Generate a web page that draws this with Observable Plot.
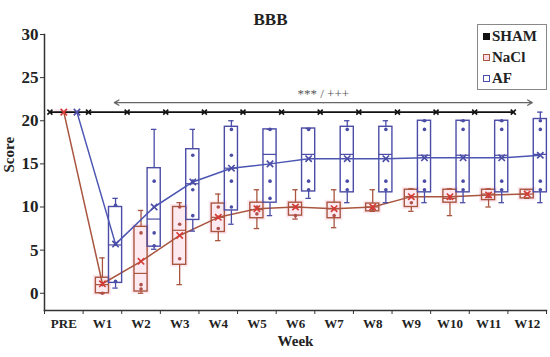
<!DOCTYPE html>
<html><head><meta charset="utf-8">
<script src="https://cdn.jsdelivr.net/npm/d3@7"></script>
<script src="https://cdn.jsdelivr.net/npm/@observablehq/plot@0.6"></script>
<style>
body{margin:0;background:#fff;}
#wrap{position:relative;width:550px;height:357px;font-family:"Liberation Serif","Times New Roman",serif;font-weight:bold;color:#222;}
#legend{position:absolute;left:477px;top:24px;width:68px;height:64px;border:1px solid #888;background:#fff;}
.item{position:absolute;left:5px;font-size:15px;line-height:15px;height:15px;display:flex;align-items:center;}
.sw{width:7px;height:7px;margin-right:2px;box-sizing:border-box;}
</style></head><body><div id="wrap"><div id="legend"></div></div>
<script>
// ---- data ----
const weeks = ["PRE","W1","W2","W3","W4","W5","W6","W7","W8","W9","W10","W11","W12"];
const yTicks = [0,5,10,15,20,25,30];
const shamScore = [21,21,21,21,21,21,21,21,21,21,21,21,21];

const naclMin    = [21, 0,   0,   1,   6.1, 7.5, 8.6, 7.6, 9.5, 9.5, 9,    10,   11];
const naclQ1     = [21, 0,   0.2, 3.3, 7.1, 8.7, 9,   8.7, 9.5, 10,  10.5, 10.8, 11];
const naclMedian = [21, 1,   2.3, 7.3, 8.8, 9.7, 10,  9.8, 10,  11.2,11,   11.5, 11.5];
const naclQ3     = [21, 1.8, 7.7, 10,  10.4,10.5,10.5,10.5,10.4,12,  12,   12,   12];
const naclMax    = [21, 4.1, 9.6, 10.5,11.5,12,  12,  12,  12,  12.1,12.1, 12.1, 12];
const naclMean   = [21, 1.1, 3.7, 6.7, 8.8, 9.8, 10,  9.8, 10,  11.2,11.2, 11.4, 11.5];
const naclPoints = [[21],[0,1],[7,1,0.5],[10,8,4],[10,7.5,8.8],[10,9.2],[10,9],[9.8,9],[10,9.8],[11.2,10.5],[11.2,11],[11.5,11.2],[11.5]];

const afMin    = [21, 0.6, 5.1, 7.2, 8,   9,   11,  10.5,10.5,10.5,10.5,10.5,10.5];
const afQ1     = [21, 1.2, 5.4, 8.5, 9.6, 10.5,11.8,11.7,11.7,11.7,11.7,11.7,11.7];
const afMedian = [21, 5.6, 8.6, 12.7,14.5,16.1,16.1,16.1,16.1,16,  16,  16,  16.1];
const afQ3     = [21, 10,  14.5,16.7,19.3,19,  19.1,19.3,19.3,20,  20,  20,  20.2];
const afMax    = [21, 11,  19,  19,  20,  19,  19.1,20,  20,  20,  20,  20,  21];
const afMean   = [21, 5.7, 10,  12.9,14.5,15,  15.6,15.6,15.6,15.7,15.7,15.7,16];
const afPoints = [[21],[10.2,5.7,1.4],[13,7,5.5],[16,12,9,13],[19,16,13,10],[19,13,11],[19,13,12],[19,13,12],[19,13,12],[20,19,13,12],[20,19,13,12],[20,19,13,12],[20,19,13,12]];

const sigSpan = [1.31, 12.13];   // week-index span of the significance arrow
const sigLevel = 22.1;           // score level of the arrow
const sigLabel = "*** / +++";

// ---- layout helpers ----
const offs = {SHAM: -0.36, NaCl: 0, AF: 0.34};
const hw = 0.17, cap = 0.07;
const styles = {
  NaCl: {stroke: "#a9553f", mean: "#d63a34", line: "#a9553f", dot: "#b0504a", halo: "#fdeaf1"},
  AF:   {stroke: "#4a4ca6", mean: "#4a4ca6", line: "#4c55b2", dot: "#4a4ca6", halo: null}
};

function buildRows(g, mn, q1, md, q3, mx, mean) {
  return weeks.map((w, i) => ({g, i, x: i + offs[g], min: mn[i], q1: q1[i], med: md[i], q3: q3[i], max: mx[i], mean: mean[i]}));
}
const groups = {
  NaCl: {rows: buildRows("NaCl", naclMin, naclQ1, naclMedian, naclQ3, naclMax, naclMean), pts: naclPoints},
  AF:   {rows: buildRows("AF", afMin, afQ1, afMedian, afQ3, afMax, afMean), pts: afPoints}
};
const shamRows = weeks.map((w, i) => ({x: i + offs.SHAM, y: shamScore[i]}));

const marks = [];
for (const g of ["NaCl", "AF"]) {
  const s = styles[g], rows = groups[g].rows;
  if (s.halo) {
    marks.push(Plot.rect(rows, {x1: d => d.x - hw, x2: d => d.x + hw, y1: "q1", y2: "q3", fill: s.halo, insetLeft: -2.5, insetRight: -2.5, insetTop: -2.5, insetBottom: -2.5}));
  }
}
marks.push(Plot.line(shamRows, {x: "x", y: "y", stroke: "#111", strokeWidth: 1.6}));
marks.push(Plot.dot(shamRows, {x: "x", y: "y", symbol: "times", r: 2.4, stroke: "#111", strokeWidth: 1.6}));
for (const g of ["NaCl", "AF"]) {
  const s = styles[g], rows = groups[g].rows;
  const bx = rows.filter(d => d.i > 0);
  const pts = groups[g].pts.flatMap((arr, i) => arr.map(v => ({x: i + offs[g], y: v})));
  marks.push(
    Plot.ruleX(bx, {x: "x", y1: "min", y2: "q1", stroke: s.stroke, strokeWidth: 1.3}),
    Plot.ruleX(bx, {x: "x", y1: "q3", y2: "max", stroke: s.stroke, strokeWidth: 1.3}),
    Plot.ruleY(bx, {y: "min", x1: d => d.x - cap, x2: d => d.x + cap, stroke: s.stroke, strokeWidth: 1.3}),
    Plot.ruleY(bx, {y: "max", x1: d => d.x - cap, x2: d => d.x + cap, stroke: s.stroke, strokeWidth: 1.3}),
    Plot.rect(bx, {x1: d => d.x - hw, x2: d => d.x + hw, y1: "q1", y2: "q3", fill: "none", stroke: s.stroke, strokeWidth: 1.4}),
    Plot.ruleY(bx, {y: "med", x1: d => d.x - hw, x2: d => d.x + hw, stroke: s.stroke, strokeWidth: 1.2}),
    Plot.dot(pts.filter(p => p.x > 0.5), {x: "x", y: "y", r: 1.8, fill: s.dot}),
    Plot.line(rows, {x: "x", y: "mean", stroke: s.line, strokeWidth: 1.5}),
    Plot.dot(rows, {x: "x", y: "mean", symbol: "times", r: 3, stroke: s.mean, strokeWidth: 1.6})
  );
}
const mid = (sigSpan[0] + sigSpan[1]) / 2;
marks.push(
  Plot.arrow([{a: mid, b: sigSpan[0]}, {a: mid, b: sigSpan[1]}], {x1: "a", x2: "b", y1: () => sigLevel, y2: () => sigLevel, stroke: "#666", strokeWidth: 1.3, headLength: 6}),
  Plot.text([sigLabel], {x: () => mid, y: () => sigLevel, text: d => d, dy: -9, fontSize: 13, fontWeight: "normal", fill: "#555"})
);

const chart = Plot.plot({
  width: 550, height: 357,
  marginLeft: 44, marginRight: 4, marginTop: 34, marginBottom: 47,
  x: {domain: [-0.5, 12.5], axis: null},
  y: {domain: [-2, 30], axis: null},
  style: {fontFamily: "'Liberation Serif', 'Times New Roman', serif", fontWeight: "bold", fontSize: "13px", color: "#222", background: "transparent"},
  marks: [
    ...marks,
    Plot.axisY({ticks: yTicks, tickSize: 4, tickPadding: 2, fontSize: 17, label: null, stroke: "#333"}),
    Plot.axisX({ticks: d3.range(13), tickFormat: i => weeks[i], tickSize: 0, tickPadding: 8, fontSize: 13, label: null}),
    Plot.axisX({ticks: d3.range(-0.5, 13, 1), tickFormat: () => "", tickSize: 4, label: null, stroke: "#333"}),
    Plot.frame({anchor: "left", stroke: "#333", strokeWidth: 1.5}),
    Plot.frame({anchor: "bottom", stroke: "#333", strokeWidth: 1.5}),
    Plot.text(["BBB"], {text: d => d, frameAnchor: "top", dx: -25, dy: -22, fontSize: 17, fill: "#222"}),
    Plot.text(["Score"], {text: d => d, frameAnchor: "left", dx: -35, rotate: -90, fontSize: 15, fill: "#222"}),
    Plot.text(["Week"], {text: d => d, frameAnchor: "bottom", dy: 35, fontSize: 15, fill: "#222"})
  ]
});
const wrap = document.getElementById("wrap");
wrap.insertBefore(chart, wrap.firstChild);

// legend
const legendItems = [
  {name: "SHAM", fill: "#111", border: "#111"},
  {name: "NaCl", fill: "#fbdbe6", border: "#a9553f"},
  {name: "AF", fill: "#fff", border: "#4a4ca6"}
];
const lg = document.getElementById("legend");
legendItems.forEach((it, k) => {
  const div = document.createElement("div");
  div.className = "item";
  div.style.top = (4 + k * 21) + "px";
  div.innerHTML = `<span class="sw" style="background:${it.fill};border:1.3px solid ${it.border}"></span>${it.name}`;
  lg.appendChild(div);
});
</script>
</body></html>
